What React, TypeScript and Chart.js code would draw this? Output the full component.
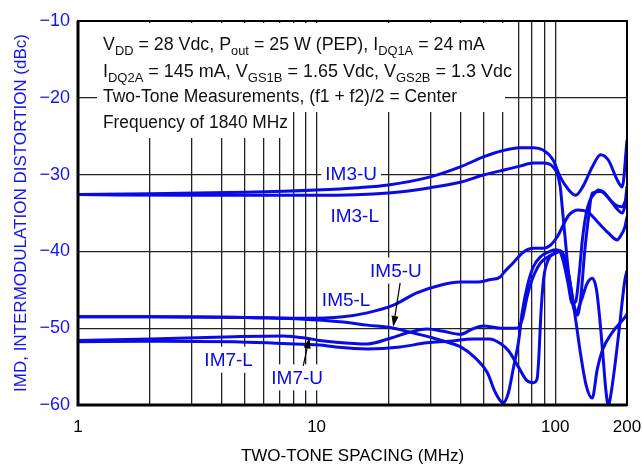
import React, { useEffect, useRef } from 'react';
import { Chart, registerables } from 'chart.js';

Chart.register(...registerables);

// ---------- data ----------
const xTickValues = [1, 2, 3, 4, 5, 6, 7, 8, 9, 10, 20, 30, 40, 50, 60, 70, 80, 90, 100, 200];
const xLabeledTicks = [1, 10, 100, 200];
const yMin = -60;
const yMax = -10;
const yStep = 10;

const im3uFreq = [1, 2, 5, 10, 15, 20, 30, 40, 50, 60, 71, 81, 89, 98, 105, 114, 122, 131, 143, 155, 167, 182, 191, 200];
const im3uDb = [-32.6, -32.5, -32.3, -32.0, -31.7, -31.35, -30.3, -29.0, -27.7, -26.9, -26.5, -26.5, -26.8, -28.1, -30.3, -32.0, -32.7, -31.5, -29.0, -27.4, -28.1, -30.7, -31.6, -25.5];

const im3lFreq = [1, 3, 10, 20, 30, 40, 50, 61, 71, 81, 89, 98, 105, 107, 110, 113, 117, 122, 128, 136, 143, 149, 154, 159, 163, 167, 173, 184, 196, 200];
const im3lDb = [-32.6, -32.7, -32.7, -32.4, -31.7, -31.0, -30.05, -29.4, -28.9, -28.5, -28.5, -29.0, -31.6, -34.2, -38.1, -42.0, -46.0, -47.9, -46.6, -44.2, -43.5, -45.0, -49.0, -54.0, -58.0, -60.0, -57.7, -51.1, -43.7, -42.5];

const im5uFreq = [1, 2, 5, 8.5, 12.9, 16.3, 21, 26, 31, 36, 40, 46, 52, 56, 60.5, 63.7, 66.6, 70.4, 72.7, 76.3, 81, 86.8, 93.5, 100, 104, 108, 113, 118, 122, 126, 130, 135, 140, 145, 152, 160, 170, 180, 190, 200];
const im5uDb = [-48.5, -48.5, -48.6, -48.8, -49.2, -49.6, -50.0, -50.7, -51.3, -51.9, -52.4, -53.8, -55.8, -58.3, -59.7, -58.4, -55.4, -51.5, -48.0, -44.6, -42.0, -40.7, -40.1, -39.8, -39.9, -41.2, -44.0, -46.8, -46.5, -43.0, -38.5, -35.0, -33.3, -32.6, -32.0, -32.3, -33.3, -34.0, -34.2, -33.0];

const im5lFreq = [1, 2, 5, 8.5, 12.9, 16.3, 21, 26.3, 33, 40, 47, 53, 59, 60.7, 66.6, 73.5, 81, 89, 95.5, 102, 114, 125, 137.5, 151, 167, 182, 187, 196, 200];
const im5lDb = [-48.5, -48.5, -48.6, -48.7, -48.5, -48.0, -47.0, -45.4, -44.4, -44.0, -44.0, -43.7, -43.3, -42.8, -41.5, -40.1, -39.6, -39.6, -39.2, -38.1, -35.3, -34.6, -34.9, -36.2, -37.6, -38.5, -38.1, -36.8, -35.5];

const im7uFreq = [1, 2, 4.5, 7.2, 9.1, 10.3, 11.8, 16.3, 20.4, 24.7, 29, 34, 40, 45, 50, 59, 69, 72.7, 76.3, 80, 86.8, 93.5, 100.6, 105, 109, 114, 119, 124, 128, 133, 138, 143, 155, 167, 182, 191, 196, 200];
const im7uDb = [-51.6, -51.4, -51.1, -51.0, -51.3, -51.6, -51.8, -52.05, -51.3, -50.5, -50.1, -50.4, -50.8, -50.1, -49.7, -50.0, -50.0, -48.9, -45.9, -43.7, -41.5, -40.7, -40.2, -39.9, -40.6, -43.0, -46.5, -48.3, -46.0, -40.0, -35.5, -32.4, -32.2, -33.0, -34.5, -35.0, -34.0, -31.5];

const im7lFreq = [1, 2, 4.5, 7.2, 10.3, 12, 16.3, 22.4, 29, 36, 45, 53, 59, 64, 70, 76, 81, 84, 85.5, 87, 89.5, 93.5, 100.6, 105, 110, 116, 122, 128, 135, 143, 150, 158, 173, 197, 200];
const im7lDb = [-51.75, -51.7, -51.75, -52.0, -52.2, -52.45, -52.7, -52.45, -51.9, -51.7, -51.4, -51.4, -52.0, -53.0, -55.0, -56.8, -57.1, -56.6, -53.5, -48.5, -43.5, -41.1, -40.2, -40.0, -41.0, -44.5, -49.0, -53.5, -57.5, -59.1, -55.4, -52.8, -50.6, -48.5, -48.2];

const seriesNames = ['IM3-U', 'IM3-L', 'IM5-U', 'IM5-L', 'IM7-U', 'IM7-L'];
const seriesFreqs = [im3uFreq, im3lFreq, im5uFreq, im5lFreq, im7uFreq, im7lFreq];
const seriesDbs = [im3uDb, im3lDb, im5uDb, im5lDb, im7uDb, im7lDb];

// curve label anchors in data units (MHz, dBc)
const labelTexts = ['IM3-U', 'IM3-L', 'IM5-U', 'IM5-L', 'IM7-L', 'IM7-U'];
const labelFreqs = [13.96, 14.45, 21.5, 13.3, 4.28, 8.29];
const labelDbs = [-29.9, -35.4, -42.5, -46.3, -54.1, -56.4];
const labelBoxed = [true, false, true, false, true, true];

// arrows (tail -> tip) in data units
const arrowTailFreqs = [22.4, 8.79];
const arrowTailDbs = [-44.1, -54.9];
const arrowTipFreqs = [20.96, 9.34];
const arrowTipDbs = [-49.84, -51.2];

const noteLines: Array<Array<[string, boolean]>> = [
  [['V', false], ['DD', true], [' = 28 Vdc, P', false], ['out', true], [' = 25 W (PEP), I', false], ['DQ1A', true], [' = 24 mA', false]],
  [['I', false], ['DQ2A', true], [' = 145 mA, V', false], ['GS1B', true], [' = 1.65 Vdc, V', false], ['GS2B', true], [' = 1.3 Vdc', false]],
  [['Two-Tone Measurements, (f1 + f2)/2 = Center', false]],
  [['Frequency of 1840 MHz', false]],
];

const xTitle = 'TWO-TONE SPACING (MHz)';
const yTitle = 'IMD, INTERMODULATION DISTORTION (dBc)';

// ---------- styles ----------
const BLUE = '#0a0ae6';
const LABEL_BLUE = '#1414f0';
const FONT = '"Liberation Sans", Arial, Helvetica, sans-serif';
const noteWidths = [382, 409, 354, 185];
const noteBaselines = [50, 77, 102, 128];

function drawRich(ctx: CanvasRenderingContext2D, x: number, baseline: number, segs: Array<[string, boolean]>, target: number) {
  const main = '18px ' + FONT;
  const sub = '13px ' + FONT;
  let natural = 0;
  for (const [t, s] of segs) {
    ctx.font = s ? sub : main;
    natural += ctx.measureText(t).width;
  }
  const sx = target / natural;
  ctx.save();
  ctx.translate(x, baseline);
  ctx.scale(sx, 1);
  let cx = 0;
  ctx.textAlign = 'left';
  ctx.textBaseline = 'alphabetic';
  for (const [t, s] of segs) {
    ctx.font = s ? sub : main;
    ctx.fillText(t, cx, s ? 5 : 0);
    cx += ctx.measureText(t).width;
  }
  ctx.restore();
}

const overlayPlugin = {
  id: 'overlay',
  beforeDatasetsDraw(chart: any) {
    const ctx = chart.ctx as CanvasRenderingContext2D;
    const xs = chart.scales.x;
    const ys = chart.scales.y;
    const ca = chart.chartArea;
    ctx.save();
    ctx.fillStyle = '#ffffff';
    ctx.fillRect(ca.left + 19, ca.top + 2, 408, 89);
    ctx.fillRect(ca.left + 19, ca.top + 89, 194, 28);
    ctx.font = '19px ' + FONT;
    for (let i = 0; i < labelTexts.length; i++) {
      if (!labelBoxed[i]) continue;
      const px = xs.getPixelForValue(labelFreqs[i]);
      const py = ys.getPixelForValue(labelDbs[i]);
      const w = ctx.measureText(labelTexts[i]).width;
      ctx.fillRect(px - w / 2 - 4, py - 13, w + 8, 26);
    }
    ctx.restore();
  },
  afterDraw(chart: any) {
    const ctx = chart.ctx as CanvasRenderingContext2D;
    const xs = chart.scales.x;
    const ys = chart.scales.y;
    const ca = chart.chartArea;
    ctx.save();
    // notes
    ctx.fillStyle = '#111111';
    for (let i = 0; i < noteLines.length; i++) {
      drawRich(ctx, ca.left + 25, noteBaselines[i], noteLines[i], noteWidths[i]);
    }
    // curve labels
    ctx.font = '19px ' + FONT;
    ctx.fillStyle = BLUE;
    ctx.textAlign = 'center';
    ctx.textBaseline = 'middle';
    for (let i = 0; i < labelTexts.length; i++) {
      ctx.fillText(labelTexts[i], xs.getPixelForValue(labelFreqs[i]), ys.getPixelForValue(labelDbs[i]) + 1);
    }
    // arrows
    ctx.strokeStyle = '#000';
    ctx.fillStyle = '#000';
    ctx.lineWidth = 1.2;
    for (let i = 0; i < arrowTailFreqs.length; i++) {
      const x0 = xs.getPixelForValue(arrowTailFreqs[i]);
      const y0 = ys.getPixelForValue(arrowTailDbs[i]);
      const x1 = xs.getPixelForValue(arrowTipFreqs[i]);
      const y1 = ys.getPixelForValue(arrowTipDbs[i]);
      const ang = Math.atan2(y1 - y0, x1 - x0);
      const hl = 11, hw = 3.5;
      const bx = x1 - hl * Math.cos(ang), by = y1 - hl * Math.sin(ang);
      ctx.beginPath();
      ctx.moveTo(x0, y0);
      ctx.lineTo(bx, by);
      ctx.stroke();
      ctx.beginPath();
      ctx.moveTo(x1, y1);
      ctx.lineTo(bx + hw * Math.sin(ang), by - hw * Math.cos(ang));
      ctx.lineTo(bx - hw * Math.sin(ang), by + hw * Math.cos(ang));
      ctx.closePath();
      ctx.fill();
    }
    // frame
    ctx.strokeStyle = '#000';
    ctx.lineWidth = 2;
    ctx.strokeRect(ca.left, ca.top, ca.right - ca.left, ca.bottom - ca.top);
    ctx.lineWidth = 3;
    ctx.beginPath();
    ctx.moveTo(ca.left, ca.top);
    ctx.lineTo(ca.left, ca.bottom);
    ctx.lineTo(ca.right, ca.bottom);
    ctx.stroke();
    ctx.restore();
  },
};

export default function App() {
  const ref = useRef<HTMLCanvasElement | null>(null);
  useEffect(() => {
    if (!ref.current) return;
    const datasets = seriesNames.map((name, i) => ({
      label: name,
      data: seriesFreqs[i].map((f, j) => ({ x: f, y: seriesDbs[i][j] })),
      borderColor: BLUE,
      backgroundColor: BLUE,
      borderWidth: 3,
      pointRadius: 0,
      fill: false,
      cubicInterpolationMode: 'monotone' as const,
    }));
    const chart = new Chart(ref.current, {
      type: 'line',
      data: { datasets },
      plugins: [overlayPlugin],
      options: {
        animation: false,
        responsive: false,
        devicePixelRatio: 1,
        layout: { padding: { left: 0, right: 15, top: 21, bottom: 0 } },
        plugins: { legend: { display: false }, tooltip: { enabled: false } },
        scales: {
          x: {
            type: 'logarithmic',
            min: 1,
            max: 200,
            afterBuildTicks: (scale: any) => {
              scale.ticks = xTickValues.map((v) => ({ value: v }));
            },
            afterFit: (scale: any) => {
              scale.height = 62;
              scale.paddingLeft = 0;
              scale.paddingRight = 0;
            },
            grid: { color: '#222', lineWidth: 1.3, drawTicks: false },
            border: { display: false },
            ticks: {
              autoSkip: false,
              maxRotation: 0,
              padding: 12,
              color: '#000',
              font: { family: FONT, size: 17 },
              callback: (v: any) => (xLabeledTicks.includes(Number(v)) ? String(v) : ''),
            },
            title: {
              display: true,
              text: xTitle,
              color: '#000',
              font: { family: FONT, size: 17 },
              padding: { top: 0, bottom: 0 },
            },
          },
          y: {
            type: 'linear',
            min: yMin,
            max: yMax,
            afterFit: (scale: any) => {
              scale.width = 78;
              scale.paddingTop = 0;
              scale.paddingBottom = 0;
            },
            grid: { color: '#222', lineWidth: 1.3, drawTicks: false },
            border: { display: false },
            ticks: {
              stepSize: yStep,
              padding: 8,
              color: LABEL_BLUE,
              font: { family: FONT, size: 18 },
              callback: (v: any) => (Number(v) < 0 ? '\u2212' + Math.abs(Number(v)) : String(v)),
            },
            title: {
              display: true,
              text: yTitle,
              color: LABEL_BLUE,
              font: { family: FONT, size: 17 },
              padding: { top: 11, bottom: 0 },
            },
          },
        },
      },
    });
    return () => chart.destroy();
  }, []);
  return (
    <div style={{ position: 'fixed', left: 0, top: 0, width: 642, height: 467, background: '#fff' }}>
      <canvas ref={ref} width={642} height={467} style={{ display: 'block' }} />
    </div>
  );
}
